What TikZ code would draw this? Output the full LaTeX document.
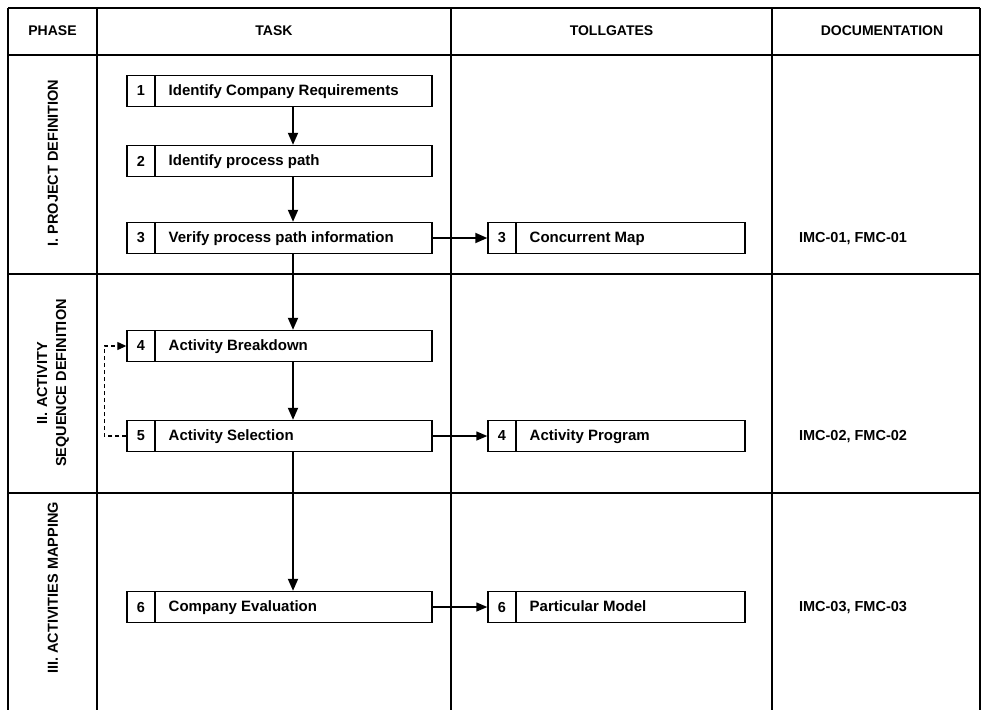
\documentclass[tikz,border=0pt]{standalone}
\usepackage{fontspec}
\setmainfont{Liberation Sans}
\usetikzlibrary{arrows.meta}
\begin{document}
\begin{tikzpicture}[x=1pt,y=-1pt,
  grid/.style={line width=1.9pt},
  taskbox/.style={draw,line width=1.4pt,minimum width=305pt,minimum height=31pt,inner sep=0pt},
  gatebox/.style={draw,line width=1.4pt,minimum width=257pt,minimum height=31pt,inner sep=0pt},
  numcell/.style={draw,line width=1.2pt,minimum width=28pt,minimum height=31pt,inner sep=0pt,anchor=west,font=\fontsize{14.5}{16}\selectfont\bfseries},
  lbl/.style={anchor=mid west,inner sep=0pt,font=\fontsize{15}{16}\selectfont\bfseries},
  head/.style={font=\fontsize{14}{16}\selectfont\bfseries},
  phase/.style={rotate=90,align=center,font=\fontsize{14.5}{19}\selectfont\bfseries},
  doc/.style={anchor=mid,inner sep=0pt,font=\fontsize{14.5}{16}\selectfont\bfseries},
  arr/.style={line width=1.8pt,-{Triangle[length=12pt,width=10pt]}},
  farr/.style={line width=1.4pt,-{Triangle[length=11pt,width=9pt]}},
  loopback/.style={line width=1.2pt,dashed,dash pattern=on 4pt off 3pt,-{Triangle[length=9pt,width=8pt]}}
]
\useasboundingbox (0,0) rectangle (984,710);

% table frame
\draw[grid] (8,8) -- (980,8);
\draw[grid] (8,55) -- (980,55);
\draw[grid] (8,274) -- (980,274);
\draw[grid] (8,493) -- (980,493);
\foreach \x in {8,97,451,772,980} \draw[grid] (\x,8) -- (\x,710);

% column headings
\node[head] (hphase) at (52.5,31) {PHASE};
\node[head] (htask) at (274,31) {TASK};
\node[head] (hgate) at (611.5,31) {TOLLGATES};
\node[head] (hdoc) at (882,31) {DOCUMENTATION};

% phase labels
\node[phase] (p1) at (53,163) {I. PROJECT DEFINITION};
\node[phase] (p2) at (53,383) {II. ACTIVITY\\SEQUENCE DEFINITION};
\node[phase] (p3) at (53,588) {III. ACTIVITIES MAPPING};

% task boxes
\foreach \i/\y/\t in {1/91/Identify Company Requirements,
                      2/161/Identify process path,
                      3/238/Verify process path information,
                      4/346/Activity Breakdown,
                      5/436/Activity Selection,
                      6/607/Company Evaluation}{
  \node[taskbox] (t\i) at (279.5,\y) {};
  \node[numcell] (tn\i) at (t\i.west) {\i};
  \node[lbl] (tl\i) at ([xshift=13pt,yshift=-1.5pt]tn\i.east) {\t};
}

% tollgate boxes
\foreach \i/\n/\y/\t in {a/3/238/Concurrent Map,
                         b/4/436/Activity Program,
                         c/6/607/Particular Model}{
  \node[gatebox] (g\i) at (616.5,\y) {};
  \node[numcell] (gn\i) at (g\i.west) {\n};
  \node[lbl] (gl\i) at ([xshift=13pt,yshift=-1.5pt]gn\i.east) {\t};
}

% documentation
\node[doc] (d1) at (853,239.5) {IMC-01, FMC-01};
\node[doc] (d2) at (853,437.5) {IMC-02, FMC-02};
\node[doc] (d3) at (853,608.5) {IMC-03, FMC-03};

% task flow
\draw[arr] ([xshift=13.5pt]t1.south) -- ([xshift=13.5pt]t2.north);
\draw[arr] ([xshift=13.5pt]t2.south) -- ([xshift=13.5pt]t3.north);
\draw[arr] ([xshift=13.5pt]t3.south) -- ([xshift=13.5pt]t4.north);
\draw[arr] ([xshift=13.5pt]t4.south) -- ([xshift=13.5pt]t5.north);
\draw[arr] ([xshift=13.5pt]t5.south) -- ([xshift=13.5pt]t6.north);

% links to tollgates
\draw[arr] (t3.east) -- (ga.west);
\draw[farr] (t5.east) -- (gb.west);
\draw[farr] (t6.east) -- (gc.west);

% selection loops back to breakdown
\draw[loopback] (t5.west) -- ++(-22,0) |- (t4.west);
\end{tikzpicture}
\end{document}
